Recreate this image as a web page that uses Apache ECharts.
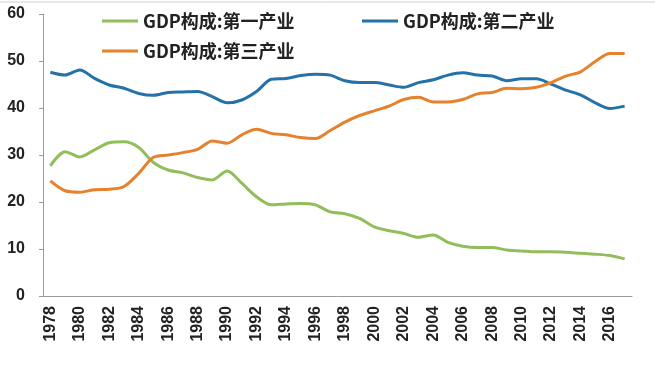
<!DOCTYPE html>
<html>
<head>
<meta charset="utf-8">
<script src="https://cdn.jsdelivr.net/npm/echarts@6/dist/echarts.min.js"></script>
<style>html,body{margin:0;padding:0;background:#fff}#c{width:655px;height:370px}</style>
</head>
<body>
<div id="c"></div>
<script>
var years = ['1978','1979','1980','1981','1982','1983','1984','1985','1986','1987','1988','1989','1990','1991','1992','1993','1994','1995','1996','1997','1998','1999','2000','2001','2002','2003','2004','2005','2006','2007','2008','2009','2010','2011','2012','2013','2014','2015','2016','2017'];
var primary = [27.7,30.7,29.6,31.1,32.6,32.8,31.6,28.4,26.8,26.2,25.2,24.7,26.6,24.0,21.1,19.4,19.6,19.7,19.4,17.9,17.5,16.5,14.7,13.9,13.3,12.5,13.0,11.4,10.6,10.3,10.3,9.8,9.6,9.4,9.4,9.3,9.1,8.9,8.6,7.9];
var secondary = [47.6,47.0,48.1,46.3,44.9,44.2,43.1,42.7,43.3,43.4,43.5,42.4,41.1,41.7,43.5,46.1,46.3,46.9,47.2,47.0,45.8,45.4,45.4,44.9,44.4,45.4,46.0,47.0,47.5,47.0,46.8,45.8,46.2,46.2,45.1,43.8,42.8,41.1,39.9,40.4];
var tertiary = [24.5,22.4,22.1,22.6,22.7,23.3,26.1,29.5,30.0,30.5,31.2,33.0,32.5,34.3,35.5,34.6,34.3,33.7,33.5,35.2,37.0,38.4,39.4,40.4,41.8,42.3,41.3,41.3,41.8,43.0,43.3,44.2,44.1,44.4,45.4,46.8,47.7,49.9,51.6,51.6];
var yTicks = [0,10,20,30,40,50,60];
var names = ['GDP构成:第一产业','GDP构成:第二产业','GDP构成:第三产业'];
var colors = ['#92bd5b','#2472a8','#e5822e'];

var chart = echarts.init(document.getElementById('c'), null, {renderer:'canvas'});
function lg(name, left, top){
  return {
    data:[name], left:left, top:top, icon:'rect', itemWidth:36, itemHeight:3,
    padding:0, selectedMode:false,
    textStyle:{fontSize:18, fontWeight:'bold', color:'#222', fontFamily:'"Noto Sans CJK SC", sans-serif'}
  };
}
chart.setOption({
  animation:false,
  backgroundColor:'#fff',
  color: colors,
  graphic:[{type:'line', shape:{x1:0,y1:2,x2:655,y2:2}, style:{stroke:'#d0d0d0', lineWidth:1}}],
  legend:[lg(names[0],102,12), lg(names[1],362,12), lg(names[2],102,42)],
  grid:{left:43, right:23, top:14, bottom:74},
  xAxis:{
    type:'category', data:years, boundaryGap:true,
    axisLine:{lineStyle:{color:'#9a9a9a', width:1}},
    axisTick:{interval:1, length:4, lineStyle:{color:'#9a9a9a'}},
    axisLabel:{interval:1, rotate:90, margin:10, fontSize:16, fontWeight:'bold', color:'#222', fontFamily:'"Liberation Sans", Arial, sans-serif'}
  },
  yAxis:{
    type:'value', min:yTicks[0], max:yTicks[yTicks.length-1], interval:10,
    splitLine:{show:false},
    axisLine:{show:true, lineStyle:{color:'#9a9a9a', width:1}},
    axisTick:{show:true, length:4, lineStyle:{color:'#9a9a9a'}},
    axisLabel:{margin:18, fontSize:16, fontWeight:'bold', color:'#222', fontFamily:'"Liberation Sans", Arial, sans-serif'}
  },
  series:[
    {name:names[0], type:'line', data:primary, smooth:0.3, showSymbol:false, symbol:'none', lineStyle:{width:3, color:colors[0]}},
    {name:names[1], type:'line', data:secondary, smooth:0.3, showSymbol:false, symbol:'none', lineStyle:{width:3, color:colors[1]}},
    {name:names[2], type:'line', data:tertiary, smooth:0.3, showSymbol:false, symbol:'none', lineStyle:{width:3, color:colors[2]}}
  ]
});
</script>
</body>
</html>
